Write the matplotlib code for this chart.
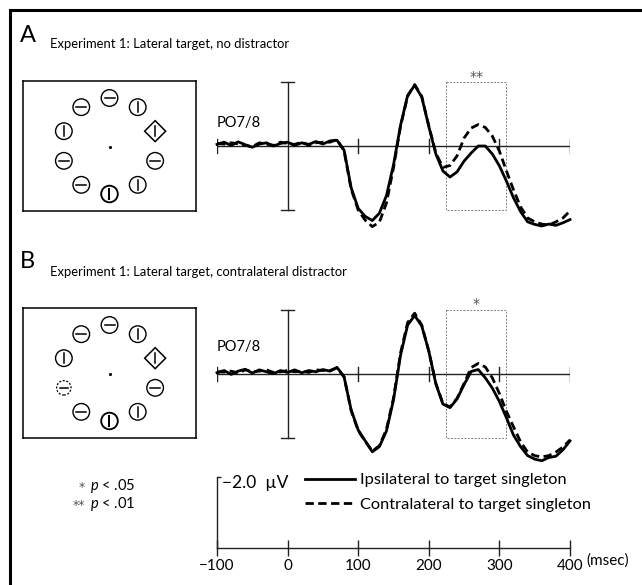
import matplotlib
matplotlib.use('Agg')
import matplotlib.pyplot as plt
import numpy as np
from matplotlib.patches import Rectangle, Circle, Polygon

plt.rcParams['font.family'] = ['Lato', 'DejaVu Sans']
plt.rcParams['mathtext.fontset'] = 'custom'
plt.rcParams['mathtext.it'] = 'Lato:italic'
plt.rcParams['mathtext.rm'] = 'Lato'

# ---- data -------------------------------------------------------------
times = list(range(-100, 401, 10))   # msec

# amplitudes in microvolts (negative is plotted up)
a_ipsi = [-0.05, -0.12, -0.02, -0.13, -0.04, 0.04, -0.06, -0.10, 0.00, -0.08,
          -0.12, -0.02, -0.10, -0.05, -0.14, -0.06, -0.16, -0.18,
          0.13, 1.30, 1.95, 2.20, 2.33, 2.10, 1.55, 0.59, -0.65, -1.58,
          -1.90, -1.53, -0.61, 0.25, 0.78, 0.97, 0.81, 0.47, 0.22, 0.00,
          0.00, 0.25, 0.62, 1.10, 1.62, 2.05, 2.37, 2.45, 2.50, 2.44,
          2.48, 2.40, 2.30]
a_contra = [-0.08, -0.06, -0.10, -0.07, -0.02, 0.02, -0.10, -0.06, -0.02, -0.12,
            -0.08, -0.05, -0.12, -0.02, -0.10, -0.12, -0.12, -0.20,
            0.15, 1.35, 2.00, 2.32, 2.52, 2.38, 1.78, 0.68, -0.62, -1.55,
            -1.92, -1.55, -0.63, 0.22, 0.67, 0.61, 0.31, -0.25, -0.56, -0.67,
            -0.58, -0.31, 0.16, 0.78, 1.37, 1.90, 2.25, 2.37, 2.44, 2.47,
            2.37, 2.25, 2.03]
b_ipsi = [-0.03, -0.10, 0.02, -0.08, -0.14, -0.02, -0.12, -0.06, 0.00, -0.10,
          -0.04, -0.12, -0.03, -0.10, -0.06, -0.13, -0.08, -0.20,
          0.10, 1.13, 1.76, 2.10, 2.44, 2.28, 1.79, 0.82, -0.58, -1.52,
          -1.82, -1.49, -0.71, 0.32, 0.95, 1.06, 0.79, 0.34, -0.07, -0.13,
          0.13, 0.45, 0.87, 1.38, 1.92, 2.28, 2.56, 2.67, 2.72, 2.62,
          2.58, 2.38, 2.10]
b_contra = [-0.06, -0.05, -0.08, -0.02, -0.12, -0.06, -0.08, -0.12, -0.04, -0.06,
            -0.10, -0.06, -0.08, -0.04, -0.12, -0.10, -0.10, -0.18,
            0.10, 1.15, 1.78, 2.12, 2.42, 2.25, 1.74, 0.76, -0.65, -1.60,
            -1.89, -1.52, -0.70, 0.30, 0.93, 1.04, 0.77, 0.30, -0.19, -0.32,
            -0.21, 0.13, 0.62, 1.18, 1.66, 2.13, 2.45, 2.56, 2.60, 2.56,
            2.45, 2.29, 2.07]

xticks = [-100, 0, 100, 200, 300, 400]
window = [225, 310]          # N2pc measurement window
stars_a = '**'
stars_b = '*'

# search display: clock angles, item shape and inner bar orientation
item_angles = [90, 54, 18, 342, 306, 270, 234, 198, 162, 126]
item_bars = ['h', 'v', 'v', 'h', 'v', 'v', 'h', 'h', 'v', 'h']
shapes_a = ['circle', 'circle', 'diamond', 'circle', 'circle',
            'circle', 'circle', 'circle', 'circle', 'circle']
shapes_b = ['circle', 'circle', 'diamond', 'circle', 'circle',
            'circle', 'circle', 'dashed', 'circle', 'circle']

title_a = 'Experiment 1: Lateral target, no distractor'
title_b = 'Experiment 1: Lateral target, contralateral distractor'
lab_ipsi = 'Ipsilateral to target singleton'
lab_contra = 'Contralateral to target singleton'
sig_keys = [('*', r'$p$ < .05'), ('**', r'$p$ < .01')]

# ---- layout helpers (pixels, origin top-left) ---------------------------
W, H = 642, 585
AX_C = '#222222'
STAR_C = '#555555'


def box(x0, y0, x1, y1):
    return [x0 / W, 1 - y1 / H, (x1 - x0) / W, (y1 - y0) / H]


fig = plt.figure(figsize=(W / 100, H / 100), dpi=100)


def erp_panel(rect, ipsi, contra, stars, label_y):
    ax = fig.add_axes(rect)
    ax.set_xlim(-100, 400)
    ax.set_ylim(2.8, -2.6)
    ax.axis('off')
    ax.plot([xticks[0], xticks[-1]], [0, 0], color=AX_C, lw=1.0)
    for tk in xticks:
        if tk != 0:
            ax.plot([tk, tk], [-0.22, 0.22], color=AX_C, lw=1.0)
    ax.plot([0, 0], [-2, 2], color=AX_C, lw=1.0)
    for yy in (-2, 2):
        ax.plot([-9, 9], [yy, yy], color=AX_C, lw=1.0)
    ax.add_patch(Rectangle((window[0], -2), window[1] - window[0], 4,
                           fill=False, ls=(0, (2, 1.5)), ec='#808080', lw=0.7))
    ax.text(np.mean(window), -1.95, stars, ha='center', va='bottom',
            color=STAR_C, fontsize=10, family='DejaVu Sans')
    l1, = ax.plot(times, ipsi, color='k', lw=2.0, clip_on=False,
                  solid_joinstyle='round')
    l2, = ax.plot(times, contra, color='k', lw=2.0, ls=(0, (3, 1.6)),
                  clip_on=False)
    ax.text(-100, label_y, 'PO7/8', fontsize=10.5, va='center')
    return l1, l2


def search_panel(rect, shapes):
    ax = fig.add_axes(rect)
    ax.set_xlim(-86.5, 86.5)
    ax.set_ylim(-65, 65)
    ax.set_xticks([])
    ax.set_yticks([])
    for s in ax.spines.values():
        s.set_linewidth(1.1)
    ax.plot(0.5, -0.5, 'k.', ms=2.5)
    ring = 48
    for ang, shape, bar in zip(item_angles, shapes, item_bars):
        x = ring * np.cos(np.radians(ang))
        y = ring * np.sin(np.radians(ang))
        lw = 1.35 if ang == 270 else 1.0
        half = 5.0
        if shape == 'circle':
            ax.add_patch(Circle((x, y), 8.3, fill=False, ec='k', lw=lw))
        elif shape == 'dashed':
            ax.add_patch(Circle((x, y), 7.2, fill=False, ec='k', lw=0.9,
                                ls=(0, (1.6, 1.3))))
            half = 3.8
        else:
            d = 10.5
            ax.add_patch(Polygon([(x, y + d), (x + d, y), (x, y - d), (x - d, y)],
                                 closed=True, fill=False, ec='k', lw=1.1))
        if bar == 'v':
            ax.plot([x, x], [y - half, y + half], color='k', lw=lw + 0.1)
        else:
            ax.plot([x - half, x + half], [y, y], color='k', lw=lw + 0.1)
    return ax


# ---- panel A -----------------------------------------------------------
fig.text(20 / W, 1 - 42 / H, 'A', fontsize=17, va='baseline')
fig.text(50 / W, 1 - 48 / H, title_a, fontsize=9.4, va='baseline')
search_panel(box(23, 81, 196, 211), shapes_a)
line_ipsi, line_contra = erp_panel(box(217, 62.8, 570, 235.6),
                                   a_ipsi, a_contra, stars_a, -0.72)

# ---- panel B -----------------------------------------------------------
fig.text(20 / W, 1 - 268 / H, 'B', fontsize=17, va='baseline')
fig.text(50 / W, 1 - 276 / H, title_b, fontsize=9.4, va='baseline')
search_panel(box(23, 308, 196, 438), shapes_b)
erp_panel(box(217, 290.5, 570, 463.3), b_ipsi, b_contra, stars_b, -0.83)

# ---- calibration / time axis ------------------------------------------
axc = fig.add_axes(box(217, 477, 570, 547.5))
axc.set_xlim(-100, 400)
axc.set_ylim(0, 2)
for side in ('top', 'right'):
    axc.spines[side].set_visible(False)
for side in ('left', 'bottom'):
    axc.spines[side].set_linewidth(1.0)
    axc.spines[side].set_color(AX_C)
axc.set_facecolor('none')
axc.set_xticks(xticks)
axc.set_xticklabels([f'\u2212{-t}' if t < 0 else str(t) for t in xticks])
axc.tick_params(axis='x', direction='inout', length=11, width=1.0,
                color=AX_C, labelsize=11, pad=3)
axc.set_yticks([2])
axc.tick_params(axis='y', direction='in', length=3, width=1.0,
                color=AX_C, labelleft=False)
axc.text(-93, 1.84, '\u22122.0  \u00b5V', fontsize=12.5, va='center')
axc.text(423, -0.38, '(msec)', fontsize=11, va='center', clip_on=False)

fig.legend([line_ipsi, line_contra], [lab_ipsi, lab_contra],
           loc='upper left', bbox_to_anchor=(305 / W, 1 - 473 / H),
           frameon=False, fontsize=11.8, handlelength=3.05,
           handletextpad=0.3, labelspacing=0.6, borderpad=0,
           borderaxespad=0)

# significance key
for row, (stars, txt) in enumerate(sig_keys):
    yp = 486 + 18 * row
    fig.text(85 / W, 1 - (yp + 2) / H, stars, ha='right', va='center',
             color=STAR_C, fontsize=9, family='DejaVu Sans')
    fig.text(90 / W, 1 - yp / H, txt, va='center', fontsize=10.5)

# outer frame (runs off the right and bottom edge)
fig.add_artist(Rectangle((9.5 / W, -0.05), 1.2, 1 - 10 / H + 0.05,
                         transform=fig.transFigure, fill=False,
                         ec='k', lw=2.2))

fig.savefig('out.png', dpi=100)
